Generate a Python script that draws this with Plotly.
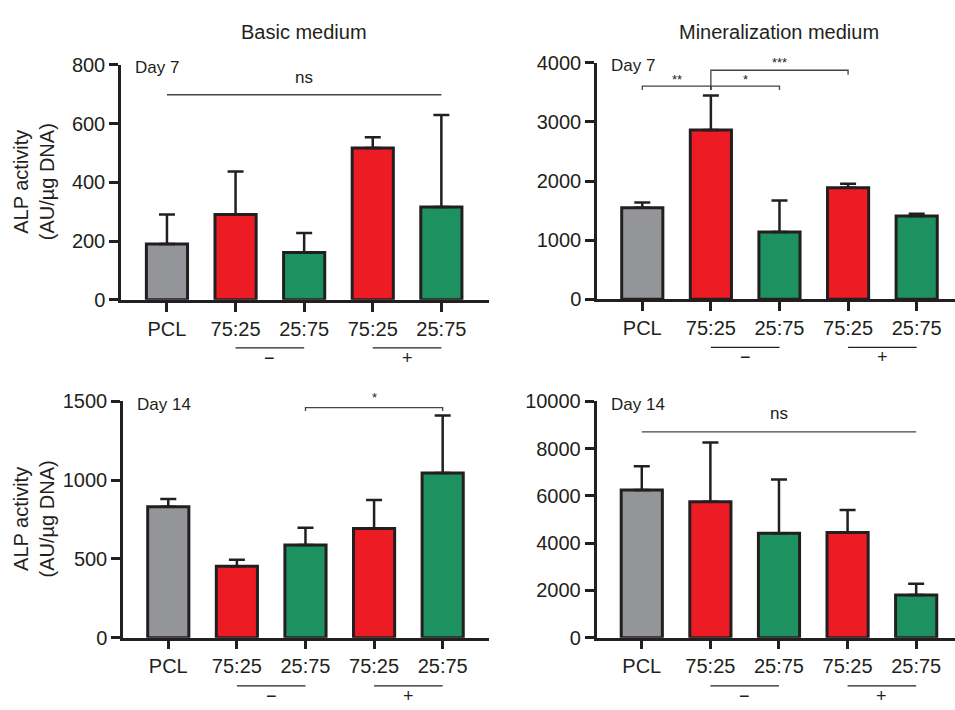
import plotly.graph_objects as go

W, H = 955, 710

# ---------------- data ----------------
tick_labels = ["PCL", "75:25", "25:75", "75:25", "25:75"]
bar_colors = ["#939598", "#ED1C24", "#1E9160", "#ED1C24", "#1E9160"]

basic_d7 = [190, 290, 161, 517, 316]
basic_d7_err = [100, 147, 66, 36, 313]

mineral_d7 = [1548, 2862, 1138, 1888, 1407]
mineral_d7_err = [89, 586, 532, 66, 38]

basic_d14 = [830, 453, 588, 693, 1045]
basic_d14_err = [49, 41, 109, 180, 365]

mineral_d14 = [6250, 5750, 4420, 4450, 1800]
mineral_d14_err = [1000, 2500, 2270, 950, 480]

column_titles = ["Basic medium", "Mineralization medium"]
day_labels = ["Day 7", "Day 7", "Day 14", "Day 14"]
y_title = "ALP activity<br>(AU/µg DNA)"
y_max = [800, 4000, 1500, 10000]
y_dtick = [200, 1000, 500, 2000]
group_signs = ["−", "+"]

# brackets: (panel, x0, x1, y, left_drop, right_drop, label, label_y, label_size)
brackets = [
    (0, 0, 4, 698, None, None, "ns", 755, 17),
    (1, 0, 1, 3607, 3541, 3541, "**", 3725, 13),
    (1, 1, 2, 3607, 3541, 3541, "*", 3725, 13),
    (1, 1, 3, 3875, 3541, 3798, "***", 4000, 13),
    (2, 2, 4, 1459, 1438, 1438, "*", 1525, 13),
    (3, 0, 4, 8705, None, None, "ns", 9460, 17),
]

# ---------------- geometry (pixels) ----------------
panels = [
    dict(left=121, right=489, top=55.5, bottom=298, r0=-0.67),
    dict(left=597, right=955, top=53.5, bottom=297.5, r0=-0.66),
    dict(left=123, right=489, top=402.7, bottom=646.7, r0=-0.66),
    dict(left=596.5, right=955, top=402.7, bottom=646.7, r0=-0.66),
]
UNIT = 68.6
for p in panels:
    p["r1"] = p["r0"] + (p["right"] - p["left"]) / UNIT

series = [
    (basic_d7, basic_d7_err),
    (mineral_d7, mineral_d7_err),
    (basic_d14, basic_d14_err),
    (mineral_d14, mineral_d14_err),
]

FONT = "Arial, Liberation Sans, Helvetica, sans-serif"
INK = "#231f20"

fig = go.Figure()
layout = dict(
    width=W, height=H,
    margin=dict(l=0, r=0, t=0, b=0),
    paper_bgcolor="white", plot_bgcolor="white",
    showlegend=False,
    font=dict(family=FONT, color=INK, size=20),
)


def px_x(p, cat):
    pan = panels[p]
    return (pan["left"] + (cat - pan["r0"]) / (pan["r1"] - pan["r0"]) * (pan["right"] - pan["left"])) / W


def val_y(p, v):
    pan = panels[p]
    pix = pan["bottom"] - v / y_max[p] * (pan["bottom"] - pan["top"])
    return 1 - pix / H


def py(pix):
    return 1 - pix / H


annotations = []
shapes = []

cats = list(range(len(tick_labels)))
for i, (vals, errs) in enumerate(series):
    p = panels[i]
    xa = "x" if i == 0 else f"x{i+1}"
    ya = "y" if i == 0 else f"y{i+1}"
    fig.add_trace(go.Bar(
        x=cats, y=vals,
        width=0.6,
        marker=dict(color=bar_colors, line=dict(color=INK, width=3)),
        error_y=dict(type="data", array=errs, arrayminus=[0] * len(errs),
                     symmetric=False, color=INK, thickness=2.5, width=8),
        xaxis=xa, yaxis=ya,
    ))
    xkey = "xaxis" if i == 0 else f"xaxis{i+1}"
    ykey = "yaxis" if i == 0 else f"yaxis{i+1}"
    layout[xkey] = dict(
        domain=[p["left"] / W, min(p["right"] / W, 1.0)],
        range=[p["r0"], p["r1"]],
        anchor=ya,
        tickmode="array", tickvals=cats, ticktext=tick_labels,
        ticks="outside", ticklen=9, tickwidth=2.5, tickcolor=INK,
        showline=True, linecolor=INK, linewidth=2.5,
        showgrid=False, zeroline=False,
        tickfont=dict(size=20, family=FONT, color=INK),
        fixedrange=True,
    )
    layout[ykey] = dict(
        domain=[1 - p["bottom"] / H, 1 - p["top"] / H],
        range=[0, y_max[i]],
        anchor=xa,
        tick0=0, dtick=y_dtick[i], tickformat="d",
        ticks="outside", ticklen=9, tickwidth=2.5, tickcolor=INK,
        showline=True, linecolor=INK, linewidth=2.5,
        showgrid=False, zeroline=False,
        tickfont=dict(size=20, family=FONT, color=INK),
        fixedrange=True,
    )
    # day label
    annotations.append(dict(
        xref="paper", yref="paper",
        x=(p["left"] + 12) / W, y=py(p["top"] + 3),
        xanchor="left", yanchor="middle",
        text=day_labels[i], showarrow=False,
        font=dict(size=17, family=FONT, color=INK),
    ))
    # group lines and signs below axis
    line_y = p["bottom"] + 49.7
    for g, (c0, c1) in enumerate([(1, 2), (3, 4)]):
        shapes.append(dict(
            type="line", xref="paper", yref="paper",
            x0=px_x(i, c0), x1=px_x(i, c1), y0=py(line_y), y1=py(line_y),
            line=dict(color=INK, width=1.3),
        ))
        annotations.append(dict(
            xref="paper", yref="paper",
            x=(px_x(i, c0) + px_x(i, c1)) / 2, y=py(line_y + 10),
            xanchor="center", yanchor="middle",
            text=group_signs[g], showarrow=False,
            font=dict(size=18, family=FONT, color=INK),
        ))

# y titles (left column)
for i in (0, 2):
    p = panels[i]
    annotations.append(dict(
        xref="paper", yref="paper",
        x=34 / W, y=py((p["top"] + p["bottom"]) / 2),
        xanchor="center", yanchor="middle",
        text=y_title, textangle=-90, showarrow=False,
        font=dict(size=20, family=FONT, color=INK),
    ))

# column titles
for j, t in enumerate(column_titles):
    cx = (px_x(j, 0) + px_x(j, 4)) / 2
    annotations.append(dict(
        xref="paper", yref="paper", x=cx, y=py(22),
        xanchor="center", yanchor="middle",
        text=t, showarrow=False,
        font=dict(size=20, family=FONT, color=INK),
    ))

# significance brackets
for (pi, x0, x1, yv, ld, rd, lab, ly, ls) in brackets:
    xa = "x" if pi == 0 else f"x{pi+1}"
    ya = "y" if pi == 0 else f"y{pi+1}"
    pts = []
    if ld is not None:
        pts.append((x0, ld))
    pts.append((x0, yv))
    pts.append((x1, yv))
    if rd is not None:
        pts.append((x1, rd))
    path = "M " + " L ".join(f"{a},{b}" for a, b in pts)
    shapes.append(dict(type="path", xref=xa, yref=ya, path=path,
                       line=dict(color="#444444", width=1.3)))
    annotations.append(dict(
        xref="paper", yref="paper",
        x=(px_x(pi, x0) + px_x(pi, x1)) / 2, y=val_y(pi, ly),
        xanchor="center", yanchor="middle",
        text=lab, showarrow=False,
        font=dict(size=ls, family=FONT, color=INK),
    ))

layout["annotations"] = annotations
layout["shapes"] = shapes
fig.update_layout(**layout)
fig.write_html(
    "out.html",
    config={"displayModeBar": False},
    post_script="document.body.style.margin='0';document.body.style.overflow='hidden';",
)
